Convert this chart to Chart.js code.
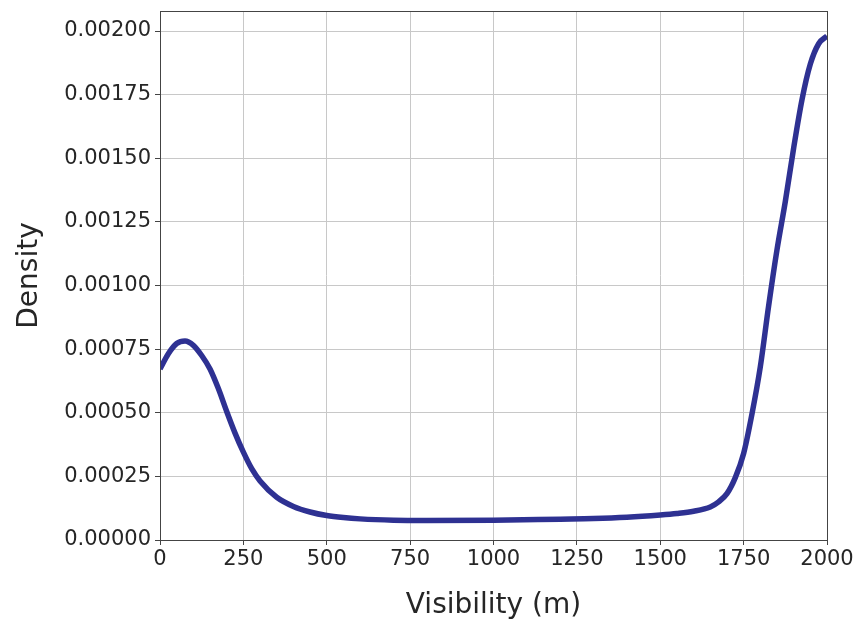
<!DOCTYPE html>
<html>
<head>
<meta charset="utf-8">
<title>Visibility density</title>
<script src="https://cdn.jsdelivr.net/npm/chart.js@4/dist/chart.umd.min.js"></script>
<style>
    html, body { margin: 0; padding: 0; background: #ffffff; }
    #kayra { display: block; }
</style>
</head>
<body>
<canvas id="kayra" width="856" height="619"></canvas>
<script>
// values
const visibility = [0, 25, 50, 75, 100, 125, 150, 175, 200, 225, 250, 275, 300, 350, 400, 450, 500, 550, 600,
    700, 800, 1000, 1200, 1300, 1400, 1500, 1550, 1600, 1650, 1675, 1700, 1725, 1750, 1775, 1800, 1825,
    1850, 1875, 1900, 1925, 1950, 1975, 2000];
const density = [0.000672, 0.000732, 0.000772, 0.000782, 0.000765, 0.000725, 0.000672, 0.000595, 0.000505,
    0.000420, 0.000345, 0.000280, 0.000232, 0.000168, 0.000132, 0.000110, 0.000096, 0.000088, 0.000083,
    0.000078, 0.000077, 0.000078, 0.000082, 0.000084, 0.000089, 0.000098, 0.000104, 0.000113, 0.000130,
    0.000150, 0.000182, 0.000245, 0.000340, 0.000495, 0.000680, 0.000920, 0.001140, 0.001330, 0.001540,
    0.001730, 0.001870, 0.001950, 0.001980];

const xTicks = [0, 250, 500, 750, 1000, 1250, 1500, 1750, 2000];
const yTicks = [0, 0.00025, 0.0005, 0.00075, 0.001, 0.00125, 0.0015, 0.00175, 0.002];

const TEXT_COLOR = '#262626';
const GRID_COLOR = '#c8c8c8';
const SPINE_COLOR = '#444444';
const LINE_COLOR = '#2e3192';

function getPoints()
{
    let points = [];
    for ( let i = 0; i < visibility.length; i++ )
    {
        points.push( { x: visibility[ i ], y: density[ i ] } );
    }
    return points;
}

// box round the plot area, like the matplotlib spines
const framePlugin = {
    id: 'frame',
    afterDatasetsDraw( chart )
    {
        const a = chart.chartArea;
        const ctx = chart.ctx;
        ctx.save();
        ctx.strokeStyle = SPINE_COLOR;
        ctx.lineWidth = 1;
        ctx.strokeRect( Math.round( a.left ) + 0.5, Math.round( a.top ) + 0.5,
            Math.round( a.right - a.left ), Math.round( a.bottom - a.top ) );
        ctx.restore();
    }
};

const config = {
    type: 'line',
    data: {
        datasets: [
            {
                label: 'Density',
                data: getPoints(),
                borderColor: LINE_COLOR,
                backgroundColor: LINE_COLOR,
                borderWidth: 5.5,
                pointRadius: 0,
                cubicInterpolationMode: 'monotone',
                fill: false
            }
        ]
    },
    options: {
        responsive: false,
        animation: false,
        layout: {
            padding: { top: 11, right: 29, left: 0, bottom: 0 }
        },
        plugins: {
            legend: { display: false },
            tooltip: { enabled: false }
        },
        scales: {
            x: {
                type: 'linear',
                min: 0,
                max: 2000,
                afterBuildTicks: function ( scale )
                {
                    scale.ticks = xTicks.map( v => ( { value: v } ) );
                },
                afterFit: function ( scale )
                {
                    scale.height = 79;
                    scale.paddingLeft = 0;
                    scale.paddingRight = 0;
                },
                ticks: {
                    color: TEXT_COLOR,
                    font: { family: 'DejaVu Sans', size: 21 },
                    padding: 2,
                    maxRotation: 0,
                    autoSkip: false,
                    callback: function ( value )
                    {
                        return String( value );
                    }
                },
                grid: {
                    color: GRID_COLOR,
                    lineWidth: 1,
                    tickColor: SPINE_COLOR,
                    tickLength: 5
                },
                border: { display: false },
                title: {
                    display: true,
                    text: 'Visibility (m)',
                    color: TEXT_COLOR,
                    font: { family: 'DejaVu Sans', size: 28, lineHeight: 1 },
                    padding: { top: 0, bottom: -1 }
                }
            },
            y: {
                type: 'linear',
                min: 0,
                max: 0.0020786,
                afterBuildTicks: function ( scale )
                {
                    scale.ticks = yTicks.map( v => ( { value: v } ) );
                },
                afterFit: function ( scale )
                {
                    scale.width = 160;
                    scale.paddingTop = 0;
                    scale.paddingBottom = 0;
                },
                ticks: {
                    color: TEXT_COLOR,
                    font: { family: 'DejaVu Sans', size: 21 },
                    padding: 4,
                    autoSkip: false,
                    callback: function ( value )
                    {
                        return Number( value ).toFixed( 5 );
                    }
                },
                grid: {
                    color: GRID_COLOR,
                    lineWidth: 1,
                    tickColor: SPINE_COLOR,
                    tickLength: 5
                },
                border: { display: false },
                title: {
                    display: true,
                    text: 'Density',
                    color: TEXT_COLOR,
                    font: { family: 'DejaVu Sans', size: 28, lineHeight: 1.2 },
                    padding: { top: 13, bottom: 0 }
                }
            }
        }
    },
    plugins: [ framePlugin ]
};

new Chart( document.getElementById( 'kayra' ).getContext( '2d' ), config );
</script>
</body>
</html>
